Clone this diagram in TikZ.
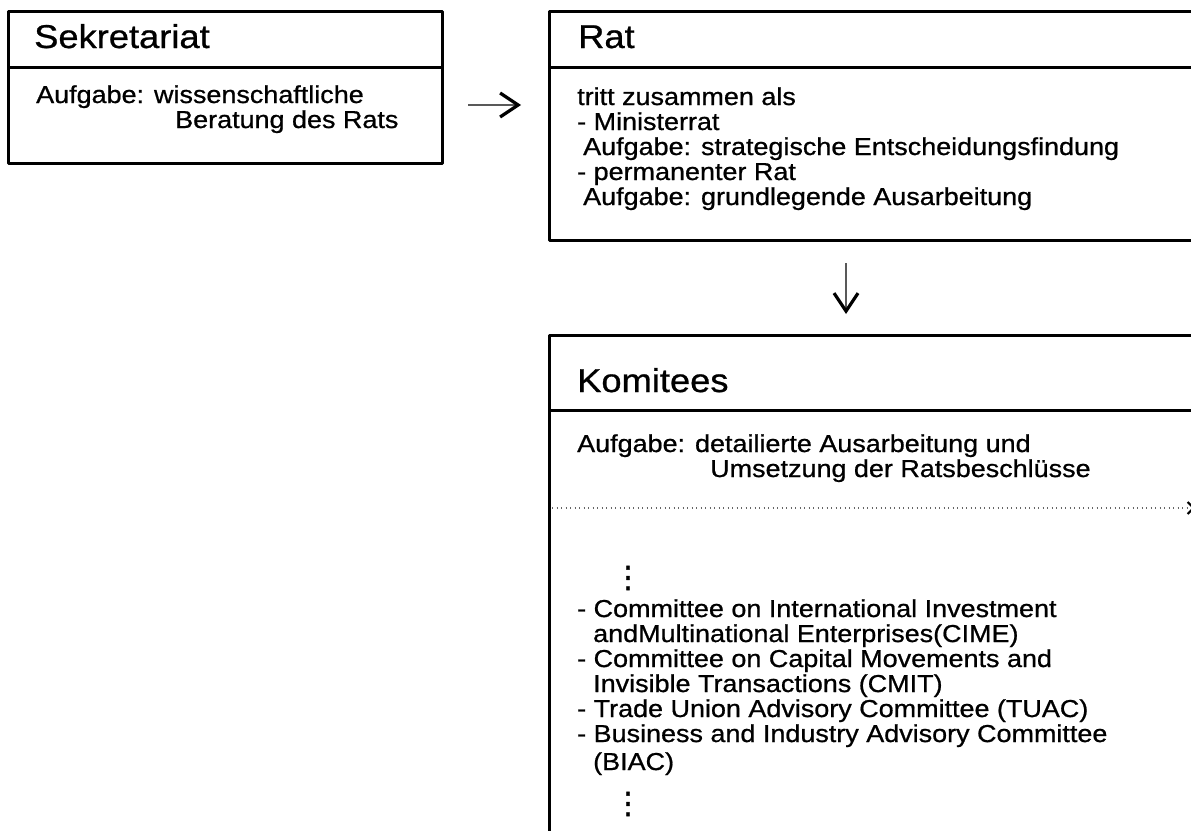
\documentclass[tikz,border=0pt]{standalone}
\usepackage{fontspec}
\setmainfont{Liberation Sans}[FakeStretch=1.1, FakeBold=0.8]
\newfontfamily\dotfam{DejaVu Sans}[FakeBold=1]
\usetikzlibrary{arrows.meta}
\newcommand\bodyf{\fontsize{24.5}{25}\selectfont}
\newcommand\titlef{\fontsize{33}{34}\selectfont}
\newcommand\dotf{\dotfam\fontsize{30}{30}\selectfont}
\begin{document}
\begin{tikzpicture}[x=1pt,y=-1pt,
  frame/.style={draw=black, line width=3pt, line join=round, inner sep=0pt, outer sep=0pt, anchor=north west},
  divider/.style={draw=black, line width=3pt},
  ttl/.style={anchor=base west, inner sep=0pt, font=\titlef},
  body/.style={anchor=base west, inner sep=0pt, font=\bodyf, align=left},
  vdots/.style={anchor=center, inner sep=0pt, font=\dotf},
  conn/.style={draw=black!65, line width=1.1pt,
    -{Straight Barb[color=black, length=18pt, width=24pt, line width=3.2pt]}},
  dotline/.style={draw=black!60, line width=1.2pt, dash pattern=on 1.3pt off 3.2pt,
    -{Straight Barb[color=black, length=6pt, width=12pt, line width=2pt]}}
]
\useasboundingbox (0,0) rectangle (1191,830);
\clip (0,0) rectangle (1191,830);
\fill[white] (0,0) rectangle (1191,830);

% boxes
\node[frame, minimum width=434pt, minimum height=152pt] (sek) at (8,11) {};
\draw[divider] ([yshift=-56pt]sek.north west) -- ([yshift=-56pt]sek.north east);

\node[frame, minimum width=660pt, minimum height=229pt] (rat) at (549,11) {};
\draw[divider] ([yshift=-56pt]rat.north west) -- ([yshift=-56pt]rat.north east);

\node[frame, minimum width=660pt, minimum height=530pt] (kom) at (549,335) {};
\draw[divider] ([yshift=-75pt]kom.north west) -- ([yshift=-75pt]kom.north east);

% texts (base anchor = baseline of the last line)
\node[ttl] (sekT) at (34,48) {Sekretariat};
\node[body] (sekB) at (36,128) {Aufgabe: wissenschaftliche\\\hspace*{139pt}Beratung des Rats};

\node[ttl] (ratT) at (578,48) {Rat};
\node[body] (ratB) at (577,205) {tritt zusammen als\\- Ministerrat\\\hspace*{6pt}Aufgabe: strategische Entscheidungsfindung\\- permanenter Rat\\\hspace*{6pt}Aufgabe: grundlegende Ausarbeitung};

\node[ttl] (komT) at (577,392) {Komitees};
\node[body] (komB) at (577,477) {Aufgabe: detailierte Ausarbeitung und\\\hspace*{133pt}Umsetzung der Ratsbeschlüsse};

\node[vdots] (dotsA) at (628,578) {⋮};
\node[body] (list) at (577,770) {- Committee on International Investment\\\hspace*{16pt}andMultinational Enterprises(CIME)\\- Committee on Capital Movements and\\\hspace*{16pt}Invisible Transactions (CMIT)\\- Trade Union Advisory Committee (TUAC)\\- Business and Industry Advisory Committee\\[3pt]\hspace*{16pt}(BIAC)};
\node[vdots] (dotsB) at (628,804) {⋮};

% connectors
\coordinate (a1s) at (468,105);
\coordinate (a1e) at (521,105);
\draw[conn] (a1s) -- (a1e);
\coordinate (a2s) at (846,263);
\coordinate (a2e) at (846,314);
\draw[conn] (a2s) -- (a2e);
\coordinate (a3s) at (552,508);
\coordinate (a3e) at (1195,508);
\draw[dotline] (a3s) -- (a3e);
\end{tikzpicture}
\end{document}
